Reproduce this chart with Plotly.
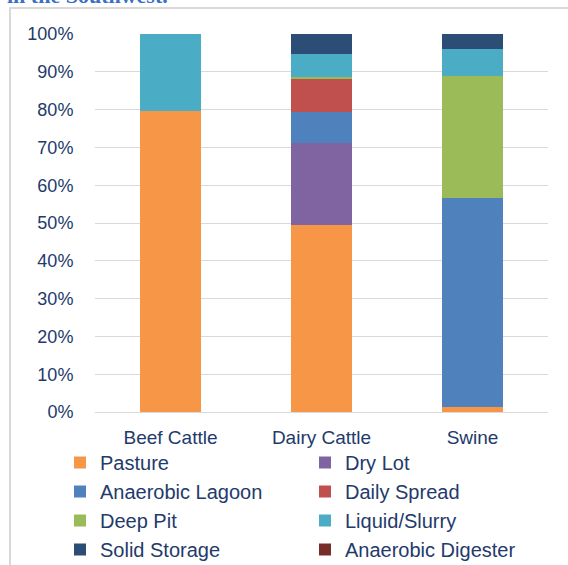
import plotly.graph_objects as go

categories = ["Beef Cattle", "Dairy Cattle", "Swine"]
series_names = ["Pasture", "Dry Lot", "Anaerobic Lagoon", "Daily Spread",
                "Deep Pit", "Liquid/Slurry", "Solid Storage", "Anaerobic Digester"]
pasture = [79.7, 49.5, 1.2]
dry_lot = [0, 21.7, 0]
anaerobic_lagoon = [0, 8.2, 55.4]
daily_spread = [0, 8.9, 0]
deep_pit = [0, 0.3, 32.4]
liquid_slurry = [20.3, 6.0, 7.0]
solid_storage = [0, 5.4, 4.0]
anaerobic_digester = [0, 0, 0]
tick_vals = [0, 10, 20, 30, 40, 50, 60, 70, 80, 90, 100]
tick_text = ["0%", "10%", "20%", "30%", "40%", "50%", "60%", "70%", "80%", "90%", "100%"]

series_values = [pasture, dry_lot, anaerobic_lagoon, daily_spread,
                 deep_pit, liquid_slurry, solid_storage, anaerobic_digester]
colors = ["#F79646", "#8064A2", "#4F81BD", "#C0504D",
          "#9BBB59", "#4BACC6", "#2C4D75", "#772C2A"]

W, H = 568, 565
L, R, T, B = 95, 20, 34, 153
pw, ph = W - L - R, H - T - B

def px_x(x):
    return (x - L) / pw

def px_y(y):
    return 1 - (y - T) / ph

txt_color = "#233A6B"
font_fam = "Liberation Sans, Arial, sans-serif"

fig = go.Figure()
for i in range(len(series_names)):
    fig.add_trace(go.Bar(
        x=categories, y=series_values[i], name=series_names[i],
        marker=dict(color=colors[i], line=dict(width=0)),
    ))

fig.update_layout(
    barmode="stack",
    bargap=0.6,
    width=W, height=H,
    margin=dict(l=L, r=R, t=T, b=B, autoexpand=False),
    paper_bgcolor="white",
    plot_bgcolor="white",
    font=dict(family=font_fam, color=txt_color, size=18),
    xaxis=dict(
        showgrid=False, showline=False, zeroline=False,
        ticks="outside", ticklen=8, tickcolor="rgba(0,0,0,0)",
        tickfont=dict(size=19, color=txt_color),
        automargin=False,
    ),
    yaxis=dict(
        range=[0, 100], tickvals=tick_vals, ticktext=tick_text,
        showgrid=True, gridcolor="#D9D9D9", gridwidth=1,
        zeroline=True, zerolinecolor="#D9D9D9", zerolinewidth=1,
        showline=False,
        ticks="outside", ticklen=17, tickcolor="rgba(0,0,0,0)",
        tickfont=dict(size=18, color=txt_color),
        automargin=False,
    ),
    legend=dict(
        orientation="h",
        traceorder="normal",
        x=px_x(60), y=px_y(443),
        xanchor="left", yanchor="top",
        entrywidth=200, entrywidthmode="pixels",
        font=dict(size=20, color=txt_color),
        bgcolor="rgba(0,0,0,0)",
    ),
    shapes=[dict(
        type="rect", xref="paper", yref="paper",
        x0=px_x(10), x1=px_x(575), y0=px_y(575), y1=px_y(8),
        line=dict(color="#D9D9D9", width=2), fillcolor="rgba(0,0,0,0)",
        layer="below",
    )],
    annotations=[dict(
        text="<b>in the Southwest.</b>", xref="paper", yref="paper",
        x=px_x(5), y=px_y(10), xanchor="left", yanchor="bottom",
        showarrow=False,
        font=dict(family="Liberation Serif, Times New Roman, serif", size=22, color="#3A6FC4"),
    )],
)

fig.write_html("out.html", config={"displayModeBar": False},
               post_script="document.body.style.margin='0';")
